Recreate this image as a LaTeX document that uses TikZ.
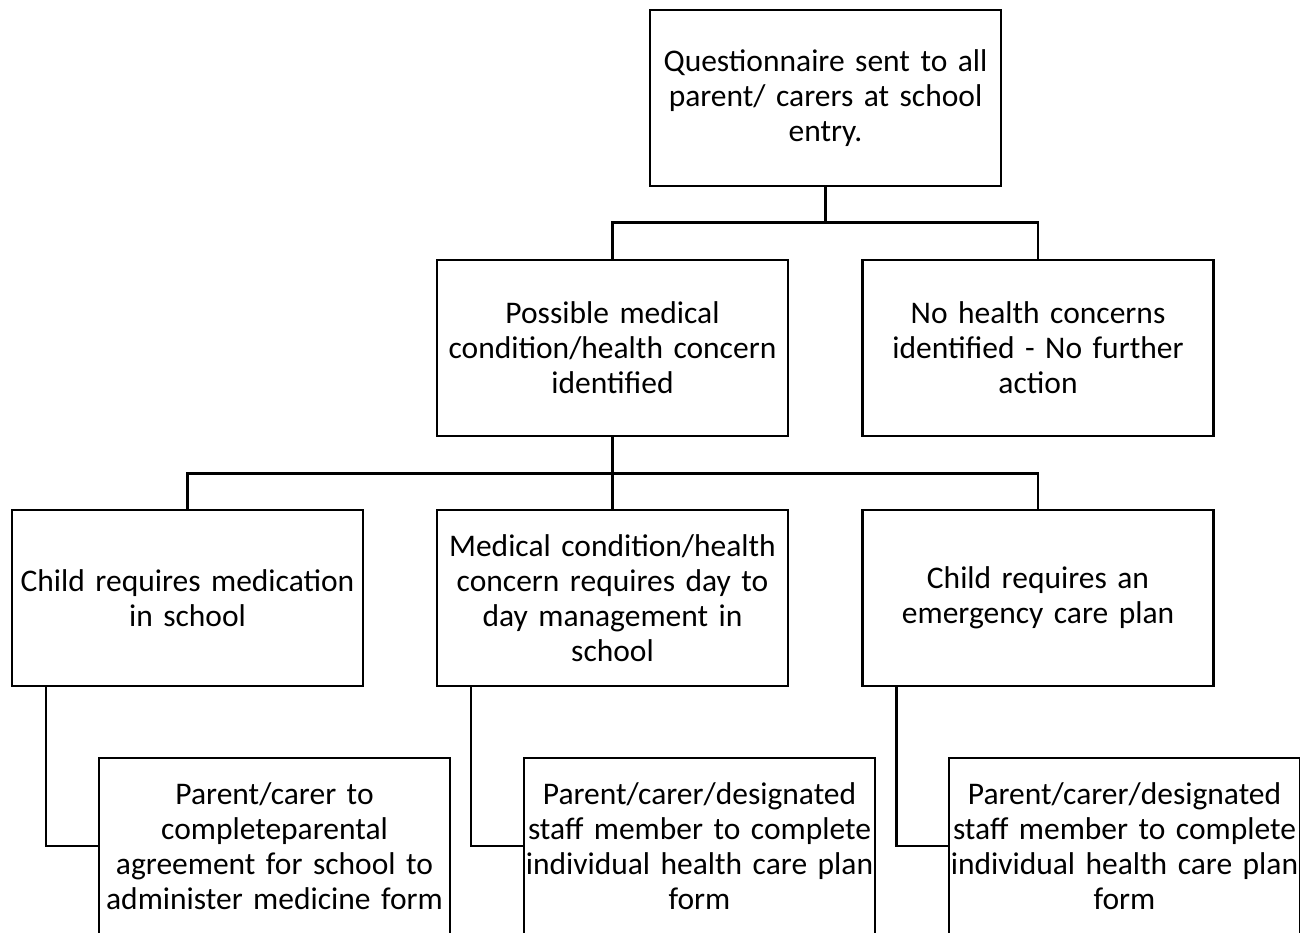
\documentclass[tikz,border=0pt]{standalone}
\usepackage{fontspec}
\setmainfont{Carlito}[WordSpace=0.85]
\usepackage{tikz}

\tikzset{
  box/.style={draw, line width=2.5pt, text width=365pt, inner xsep=-7pt, inner ysep=0pt,
    minimum height=176pt, align=center, font=\fontsize{31.5}{35}\selectfont},
  link/.style={line width=2.5pt}
}

\begin{document}
\begin{tikzpicture}[x=1pt,y=-1pt]
    \useasboundingbox (0,0) rectangle (1300,932);
    \node[box] (quest) at (825.5,98) {Questionnaire sent to all\\ parent/ carers at school\\ entry.};
    \node[box] (possible) at (612.5,348) {Possible medical\\ condition/health concern\\ identified};
    \node[box] (nohealth) at (1038,348) {No health concerns\\ identified - No further\\ action};
    \node[box] (medication) at (187.5,598) {Child requires medication\\ in school};
    \node[box] (daytoday) at (612.5,598) {Medical condition/health\\ concern requires day to\\ day management in\\ school};
    \node[box] (emergency) at (1038,598) {Child requires an\\ emergency care plan};
    \node[box] (formmed) at (274.5,846) {Parent/carer to\\ completeparental\\ agreement for school to\\ administer medicine form};
    \node[box] (formday) at (699.5,846) {Parent/carer/designated\\ staff member to complete\\ individual health care plan\\ form};
    \node[box] (formemer) at (1124.5,846) {Parent/carer/designated\\ staff member to complete\\ individual health care plan\\ form};
    % tree links
    \draw[link] (quest.south) -- ++(0,35) coordinate (split1);
    \draw[link] (possible.north) |- (split1) -| (nohealth.north);
    \draw[link] (possible.south) -- ++(0,36) coordinate (split2);
    \draw[link] (medication.north) |- (split2) -| (emergency.north);
    \draw[link] (split2) -- (daytoday.north);
    % elbow links to the forms
    \draw[link] ([xshift=35pt]medication.south west) |- (formmed.west);
    \draw[link] ([xshift=35pt]daytoday.south west) |- (formday.west);
    \draw[link] ([xshift=35pt]emergency.south west) |- (formemer.west);
\end{tikzpicture}
\end{document}
